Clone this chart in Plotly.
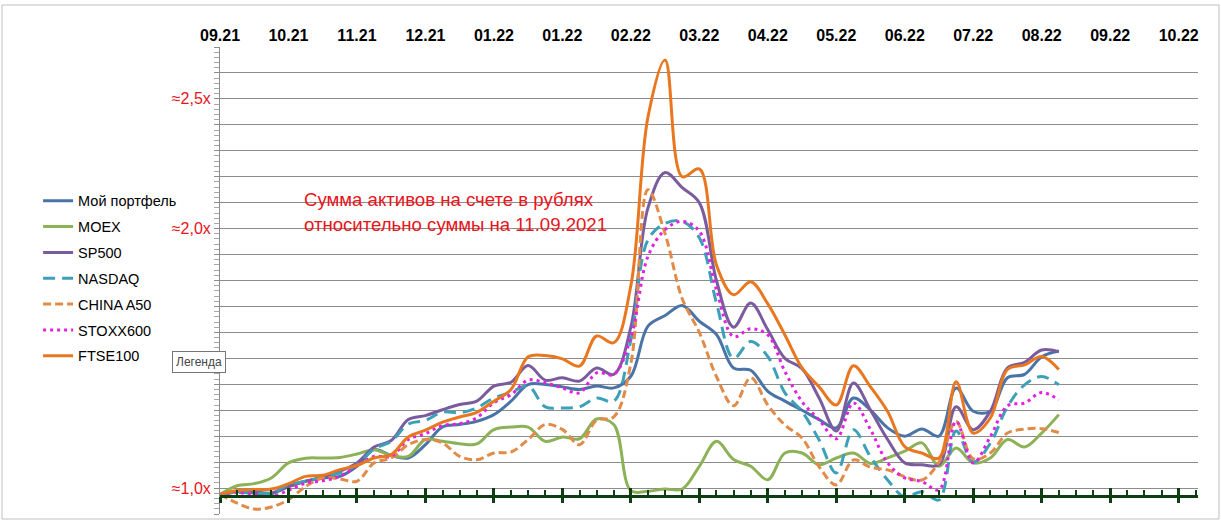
import plotly.graph_objects as go

# ---------------- data (weekly, normalised to 11.09.2021) ----------------
weeks = list(range(50))

portfolio = [0.975, 0.987, 0.981, 0.978, 1.006, 1.026, 1.039, 1.045, 1.084, 1.148,
             1.125, 1.116, 1.167, 1.236, 1.245, 1.257, 1.283, 1.335, 1.399, 1.399,
             1.390, 1.380, 1.393, 1.386, 1.431, 1.624, 1.665, 1.704, 1.643, 1.592,
             1.463, 1.454, 1.373, 1.335, 1.300, 1.264, 1.232, 1.347, 1.300, 1.232,
             1.200, 1.228, 1.200, 1.386, 1.296, 1.296, 1.425, 1.438, 1.506, 1.528]

moex = [0.975, 1.009, 1.017, 1.039, 1.097, 1.115, 1.116, 1.118, 1.131, 1.148,
        1.125, 1.122, 1.187, 1.180, 1.171, 1.170, 1.225, 1.235, 1.235, 1.180,
        1.197, 1.190, 1.266, 1.245, 0.990, 0.988, 0.996, 0.996, 1.084, 1.180,
        1.110, 1.084, 1.032, 1.135, 1.135, 1.090, 1.116, 1.135, 1.095, 1.116,
        1.142, 1.174, 1.084, 1.154, 1.097, 1.116, 1.187, 1.158, 1.212, 1.283]

sp500 = [0.975, 0.987, 0.985, 0.981, 1.006, 1.026, 1.042, 1.064, 1.097, 1.158,
         1.183, 1.264, 1.279, 1.302, 1.322, 1.335, 1.393, 1.408, 1.472, 1.416,
         1.425, 1.412, 1.463, 1.438, 1.620, 2.080, 2.216, 2.158, 2.100, 1.800,
         1.620, 1.713, 1.610, 1.500, 1.460, 1.347, 1.220, 1.405, 1.300, 1.187,
         1.097, 1.090, 1.090, 1.313, 1.225, 1.296, 1.463, 1.485, 1.532, 1.525]

nasdaq = [0.975, 0.983, 0.981, 0.981, 1.013, 1.026, 1.042, 1.058, 1.090, 1.151,
          1.180, 1.247, 1.261, 1.293, 1.290, 1.309, 1.347, 1.369, 1.393, 1.313,
          1.309, 1.313, 1.347, 1.335, 1.570, 1.957, 2.020, 2.028, 1.965, 1.714,
          1.500, 1.565, 1.507, 1.367, 1.295, 1.185, 1.058, 1.225, 1.120, 1.031,
          0.966, 0.986, 0.954, 1.220, 1.100, 1.173, 1.314, 1.398, 1.430, 1.398]

china_a50 = [0.975, 0.942, 0.919, 0.927, 0.955, 1.006, 1.039, 1.035, 1.026, 1.097,
             1.116, 1.167, 1.187, 1.174, 1.122, 1.109, 1.135, 1.139, 1.187, 1.245,
             1.226, 1.167, 1.261, 1.274, 1.480, 2.150, 1.980, 1.730, 1.600, 1.430,
             1.317, 1.425, 1.320, 1.243, 1.193, 1.082, 1.012, 1.108, 1.080, 1.070,
             1.044, 1.031, 1.100, 1.257, 1.112, 1.135, 1.212, 1.227, 1.229, 1.214]

stoxx600 = [0.975, 0.983, 0.974, 0.968, 0.991, 1.019, 1.028, 1.045, 1.086, 1.122,
            1.122, 1.187, 1.210, 1.241, 1.248, 1.271, 1.329, 1.360, 1.416, 1.406,
            1.386, 1.367, 1.444, 1.438, 1.580, 1.893, 1.996, 2.028, 1.990, 1.764,
            1.584, 1.614, 1.590, 1.449, 1.333, 1.263, 1.190, 1.328, 1.225, 1.097,
            1.039, 1.025, 0.993, 1.257, 1.097, 1.198, 1.317, 1.328, 1.368, 1.340]

ftse100 = [0.975, 0.991, 0.994, 0.996, 1.017, 1.045, 1.049, 1.071, 1.087, 1.116,
           1.129, 1.197, 1.223, 1.254, 1.274, 1.292, 1.335, 1.380, 1.506, 1.511,
           1.498, 1.470, 1.586, 1.560, 1.780, 2.430, 2.650, 2.200, 2.230, 1.860,
           1.745, 1.795, 1.710, 1.590, 1.463, 1.390, 1.320, 1.471, 1.390, 1.295,
           1.160, 1.135, 1.116, 1.410, 1.212, 1.270, 1.457, 1.475, 1.507, 1.457]

month_labels = ["09.21", "10.21", "11.21", "12.21", "01.22", "01.22", "02.22", "03.22",
                "04.22", "05.22", "06.22", "07.22", "08.22", "09.22", "10.22"]
month_ticks = [i * 4 for i in range(len(month_labels))]

y_grid = [round(0.9 + 0.1 * k, 1) for k in range(19)]
y_labels = {1.0: "≈1,0x", 2.0: "≈2,0x", 2.5: "≈2,5x"}
y_ticktext = [y_labels.get(v, "") for v in y_grid]

series = [
    ("Мой портфель", portfolio, "#4A74A8", "solid"),
    ("MOEX", moex, "#8DB156", "solid"),
    ("SP500", sp500, "#7A5C9E", "solid"),
    ("NASDAQ", nasdaq, "#3DA0B9", "12px,7px"),
    ("CHINA A50", china_a50, "#E28B48", "8px,4px"),
    ("STOXX600", stoxx600, "#E31FE3", "3px,4px"),
    ("FTSE100", ftse100, "#E8771F", "solid"),
]

FONT = "Liberation Sans"

fig = go.Figure()
for i, (name, vals, color, dash) in enumerate(series):
    fig.add_trace(go.Scatter(
        x=weeks, y=vals, name=name, mode="lines",
        line=dict(color=color, width=3, dash=dash, shape="spline", smoothing=1.0),
        legendgroup=f"g{i}", hoverinfo="skip"))

# invisible carriers for the green category axis drawn inside the plot
for ax in ("x2", "x3"):
    fig.add_trace(go.Scatter(x=weeks, y=moex, xaxis=ax, mode="lines",
                             line=dict(width=0), opacity=0, showlegend=False,
                             hoverinfo="skip"))

XR = [0, 57.13]
AXIS_POS = (0.97 - 0.9) / 1.8
GREEN = "#0E3F12"

fig.update_layout(
    width=1221, height=524,
    margin=dict(l=220, r=23, t=47, b=10),
    paper_bgcolor="white", plot_bgcolor="white",
    font=dict(family=FONT, color="black"),
    showlegend=True,
    legend=dict(
        x=-0.186, xanchor="left", y=0.705, yanchor="top",
        font=dict(family=FONT, size=14.5, color="black"),
        traceorder="grouped", tracegroupgap=4,
        bgcolor="rgba(0,0,0,0)", itemwidth=30,
    ),
    xaxis=dict(
        range=XR, side="top", tickmode="array", tickvals=month_ticks, ticktext=month_labels,
        tickfont=dict(family=FONT, size=16, color="black", weight="bold"),
        showgrid=False, zeroline=False, showline=False, ticks="",
        ticklabelstandoff=2,
    ),
    xaxis2=dict(
        range=XR, matches="x", overlaying="x", anchor="free", position=AXIS_POS,
        showline=True, linecolor=GREEN, linewidth=3,
        tickmode="linear", tick0=0, dtick=4, ticks="inside", ticklen=7,
        tickwidth=2.5, tickcolor=GREEN, showticklabels=False, showgrid=False, zeroline=False,
        minor=dict(ticks="inside", ticklen=5, tickwidth=1.5, tickcolor=GREEN,
                   tick0=0, dtick=1, showgrid=False),
    ),
    xaxis3=dict(
        range=XR, matches="x", overlaying="x", anchor="free", position=AXIS_POS,
        showline=False, tickmode="linear", tick0=0, dtick=4, ticks="outside", ticklen=6,
        tickwidth=2.5, tickcolor=GREEN, showticklabels=False, showgrid=False, zeroline=False,
    ),
    yaxis=dict(
        range=[0.9, 2.7], tickmode="array", tickvals=y_grid, ticktext=y_ticktext,
        tickfont=dict(family=FONT, size=16, color="#E8141B"),
        showgrid=True, gridcolor="#8C8C8C", gridwidth=1,
        showline=True, linecolor="#8C8C8C", linewidth=1,
        ticks="outside", ticklen=5, tickcolor="#8C8C8C",
        minor=dict(ticks="outside", ticklen=5, tickcolor="#A6A6A6", tick0=0.9, dtick=0.02,
                   showgrid=False),
        zeroline=False, ticklabelstandoff=0,
    ),
)

def px_x(p):
    return (p - 220) / 978.0

def px_y(p):
    return (514 - p) / 467.0

fig.add_annotation(x=px_x(302), y=px_y(199), xref="paper", yref="paper",
                   xanchor="left", yanchor="middle", showarrow=False,
                   text="Сумма активов на счете в рублях",
                   font=dict(family=FONT, size=18.6, color="#E8141B"))
fig.add_annotation(x=px_x(302), y=px_y(224), xref="paper", yref="paper",
                   xanchor="left", yanchor="middle", showarrow=False,
                   text="относительно суммы на 11.09.2021",
                   font=dict(family=FONT, size=18.6, color="#E8141B"))

# Excel tooltip "Легенда"
fig.add_annotation(x=px_x(199), y=px_y(362), xref="paper", yref="paper",
                   xanchor="center", yanchor="middle", showarrow=False,
                   text="Легенда", font=dict(family=FONT, size=12, color="#444444"),
                   bgcolor="white", bordercolor="#767676", borderwidth=1, borderpad=3)

# chart-area frame
fig.add_shape(type="rect", xref="paper", yref="paper",
              x0=px_x(2), x1=px_x(1219), y0=px_y(519), y1=px_y(5),
              line=dict(color="#BFBFBF", width=1), layer="below")

fig.write_html("out.html")
